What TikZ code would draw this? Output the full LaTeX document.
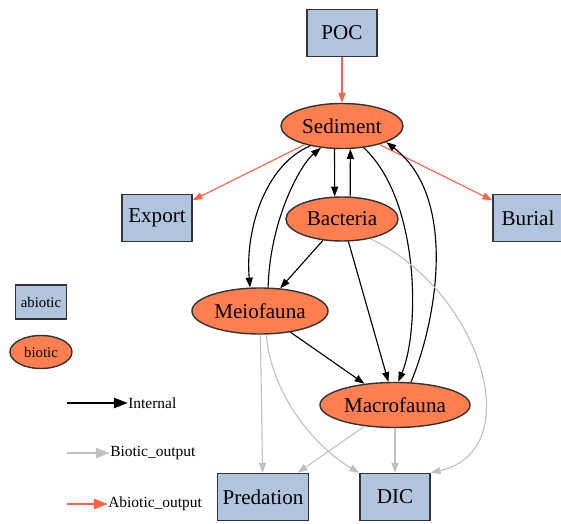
\documentclass[tikz,border=0pt]{standalone}
\usepackage{fontspec}
\setmainfont{Liberation Serif}
\usetikzlibrary{shapes.geometric,arrows.meta}
\definecolor{biocol}{HTML}{FF7F50}
\definecolor{abiocol}{HTML}{B0C4DE}
\definecolor{outred}{HTML}{FF6347}
\definecolor{outgray}{HTML}{C0C0C0}
\definecolor{rim}{HTML}{333333}

\begin{document}
\begin{tikzpicture}[x=0.025cm,y=-0.025cm,
 abio/.style={draw=rim,fill=abiocol,line width=1pt,minimum width=1.75cm,minimum height=1.175cm,inner sep=0pt,font=\fontsize{15}{17}\selectfont},
 bio/.style={ellipse,draw=rim,fill=biocol,line width=1pt,inner sep=0pt,font=\fontsize{15}{17}\selectfont},
 internal/.style={-{Triangle[length=7pt,width=5pt]},line width=0.8pt},
 bout/.style={-{Triangle[length=7pt,width=5pt]},outgray,line width=0.8pt},
 aout/.style={-{Triangle[length=7pt,width=5pt]},outred,line width=0.8pt},
 keyline/.style={line width=2pt,-{Triangle[length=10pt,width=7pt]}},
 key/.style={right,inner sep=0pt,font=\fontsize{11}{13}\selectfont}]
\useasboundingbox (0,0) rectangle (561,524);
\node[abio] (poc) at (342,33) {POC};
\node[bio,minimum width=3.05cm,minimum height=1.125cm] (sed) at (342,126) {Sediment};
\node[abio] (exp) at (157,218) {Export};
\node[abio] (bur) at (528,218) {Burial};
\node[bio,minimum width=2.8cm,minimum height=1.1cm] (bac) at (342,219) {Bacteria};
\node[bio,minimum width=3.4cm,minimum height=1.15cm] (mei) at (260,311) {Meiofauna};
\node[bio,minimum width=3.75cm,minimum height=1.125cm] (mac) at (395,405) {Macrofauna};
\node[abio,minimum width=2.275cm] (pre) at (263,497) {Predation};
\node[abio] (dic) at (395,497) {DIC};
\node[abio,minimum width=1.275cm,minimum height=0.85cm,font=\fontsize{10.5}{12}\selectfont] (abi) at (41,302) {abiotic};
\node[bio,minimum width=1.55cm,minimum height=0.825cm,font=\fontsize{10.5}{12}\selectfont] (bio) at (41,352) {biotic};

\draw[aout] (poc) -- (sed);
\draw[aout] (sed) -- (exp);
\draw[aout] (sed) -- (bur);
\draw[internal] (sed.252) -- (bac.108);
\draw[internal] (bac.70) -- (sed.290);
\draw[internal] (sed.212) .. controls (265,165) and (245,230) .. (mei.113);
\draw[internal] (mei.71) .. controls (270,220) and (300,165) .. (sed.226);
\draw[internal] (bac) -- (mei);
\draw[internal] (bac) -- (mac);
\draw[internal] (mei) -- (mac);
\draw[internal] (sed.315) .. controls (420,200) and (420,330) .. (mac.82);
\draw[internal] (mac.55) .. controls (437,320) and (458,197) .. (sed.340);
\draw[bout] (bac.325) .. controls (480,290) and (530,450) .. (dic.north east);
\draw[bout] (mei) -- (pre);
\draw[bout] (mei.285) .. controls (272,400) and (320,450) .. (dic.north west);
\draw[bout] (mac) -- (pre);
\draw[bout] (mac) -- (dic);

\coordinate (k1) at (67,403);
\coordinate (k2) at (67,453);
\coordinate (k3) at (67,504);
\node[key] (t1) at (128,403) {Internal};
\node[key] (t2) at (110,453) {Biotic\_output};
\node[key] (t3) at (108,504) {Abiotic\_output};
\draw[keyline] (k1) -- (t1.west);
\draw[keyline,outgray] (k2) -- (t2.west);
\draw[keyline,outred] (k3) -- (t3.west);
\end{tikzpicture}
\end{document}
